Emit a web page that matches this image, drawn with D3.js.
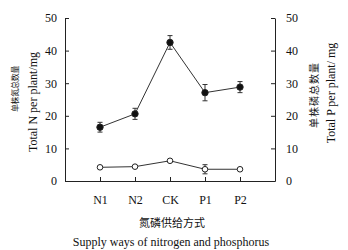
<!DOCTYPE html>
<html>
<head>
<meta charset="utf-8">
<script src="https://cdn.jsdelivr.net/npm/d3@7"></script>
<style>
  body { margin: 0; background: #fff; }
  text { font-family: "Liberation Serif", "Times New Roman", serif; fill: #111; }
  .cjk { font-family: "Noto Sans CJK SC", sans-serif; }
</style>
</head>
<body>
<div id="chart"></div>
<script>
const width = 348, height = 250;

// treatments and measured totals (mg per plant)
const treatments = ["N1", "N2", "CK", "P1", "P2"];
const totalN = [16.5, 20.6, 42.5, 27.1, 28.8];
const totalNErr = [1.5, 1.7, 2.1, 2.5, 1.7];
const totalP = [4.2, 4.4, 6.2, 3.6, 3.6];
const totalPErr = [0.3, 0.3, 0.3, 1.4, 0.3];
const yTicks = [0, 10, 20, 30, 40, 50];

const margin = {left: 65, right: 73, top: 18, bottom: 69};

const svg = d3.select("#chart")
  .append("svg")
  .attr("width", width)
  .attr("height", height);

const x = d3.scalePoint()
  .domain(treatments)
  .range([margin.left, width - margin.right])
  .padding(1);

const y = d3.scaleLinear()
  .domain([0, 50])
  .range([height - margin.bottom, margin.top]);

// axes, ticks pointing into the plot
const yLeft = svg.append("g")
  .attr("transform", `translate(${margin.left},0)`)
  .call(d3.axisLeft(y).tickValues(yTicks).tickSizeInner(-4).tickSizeOuter(0).tickPadding(8));

const yRight = svg.append("g")
  .attr("transform", `translate(${width - margin.right},0)`)
  .call(d3.axisRight(y).tickValues(yTicks).tickSizeInner(-4).tickSizeOuter(0).tickPadding(8));

const xAxis = svg.append("g")
  .attr("transform", `translate(0,${height - margin.bottom})`)
  .call(d3.axisBottom(x).tickSizeInner(-4).tickSizeOuter(0).tickPadding(14));

for (const g of [yLeft, yRight, xAxis]) {
  g.select(".domain").attr("stroke", "#222");
  g.selectAll(".tick line").attr("stroke", "#222");
  g.selectAll(".tick text")
    .style("font-family", "'Liberation Serif', serif")
    .style("font-size", "12px")
    .attr("fill", "#111");
}
yRight.selectAll(".tick text").attr("dx", "3");

// axis titles
const leftTitle = svg.append("g")
  .attr("transform", "rotate(-90)");
leftTitle.append("text")
  .attr("class", "cjk")
  .attr("x", -89).attr("y", 18)
  .attr("text-anchor", "middle")
  .style("font-size", "8px")
  .style("letter-spacing", "-0.3px")
  .text("单株氮总数量");
leftTitle.append("text")
  .attr("x", -102).attr("y", 37)
  .attr("text-anchor", "middle")
  .style("font-size", "12px")
  .text("Total N per plant/mg");

const rightTitle = svg.append("g")
  .attr("transform", "rotate(-90)");
rightTitle.append("text")
  .attr("class", "cjk")
  .attr("x", -95).attr("y", 318)
  .attr("text-anchor", "middle")
  .style("font-size", "10px")
  .style("letter-spacing", "1px")
  .text("单株磷总数量");
rightTitle.append("text")
  .attr("x", -93).attr("y", 335)
  .attr("text-anchor", "middle")
  .style("font-size", "12px")
  .text("Total P per plant/ mg");

svg.append("text")
  .attr("class", "cjk")
  .attr("x", 172).attr("y", 227)
  .attr("text-anchor", "middle")
  .style("font-size", "11px")
  .text("氮磷供给方式");

svg.append("text")
  .attr("x", 171).attr("y", 246)
  .attr("text-anchor", "middle")
  .style("font-size", "12px")
  .text("Supply ways of nitrogen and phosphorus");

// series
const series = [
  {values: totalN, err: totalNErr, fill: "#111", r: 3.2},
  {values: totalP, err: totalPErr, fill: "#fff", r: 2.8}
];

const line = d3.line()
  .x((d, i) => x(treatments[i]))
  .y(d => y(d));

for (const s of series) {
  const g = svg.append("g");
  g.append("path")
    .datum(s.values)
    .attr("fill", "none")
    .attr("stroke", "#333")
    .attr("stroke-width", 1)
    .attr("d", line);

  const bars = g.selectAll(".err")
    .data(s.values)
    .join("g");
  bars.append("line")
    .attr("x1", (d, i) => x(treatments[i]))
    .attr("x2", (d, i) => x(treatments[i]))
    .attr("y1", (d, i) => y(d - s.err[i]))
    .attr("y2", (d, i) => y(d + s.err[i]))
    .attr("stroke", "#333");
  for (const sign of [-1, 1]) {
    bars.append("line")
      .attr("x1", (d, i) => x(treatments[i]) - 2.5)
      .attr("x2", (d, i) => x(treatments[i]) + 2.5)
      .attr("y1", (d, i) => y(d + sign * s.err[i]))
      .attr("y2", (d, i) => y(d + sign * s.err[i]))
      .attr("stroke", "#333");
  }

  g.selectAll("circle")
    .data(s.values)
    .join("circle")
    .attr("cx", (d, i) => x(treatments[i]))
    .attr("cy", d => y(d))
    .attr("r", s.r)
    .attr("fill", s.fill)
    .attr("stroke", "#222")
    .attr("stroke-width", 1);
}
</script>
</body>
</html>
